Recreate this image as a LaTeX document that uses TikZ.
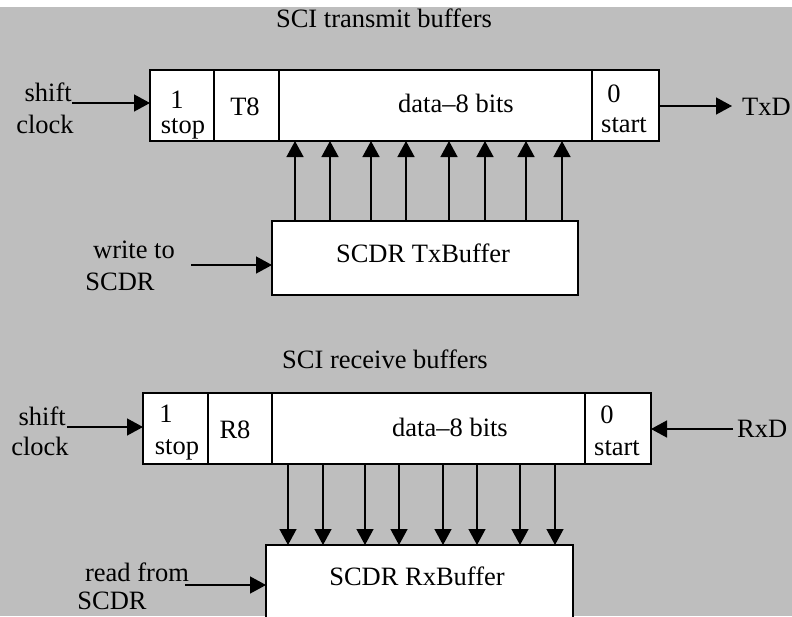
\documentclass[tikz,border=0pt]{standalone}
\usepackage{fontspec}
\setmainfont{Liberation Serif}
\usetikzlibrary{arrows.meta}
\definecolor{bg}{RGB}{190,190,190}
\begin{document}
\begin{tikzpicture}[x=1pt,y=-1pt,
  cell/.style={draw, fill=white, line width=1.4pt, inner sep=0pt, outer sep=0pt, anchor=north west},
  txt/.style={inner sep=0pt, anchor=base, font=\fontsize{26.5}{30}\selectfont},
  arr/.style={line width=1.4pt, -{Triangle[length=16pt,width=17pt]}}]
\useasboundingbox (0,0) rectangle (792,616);
\clip (0,0) rectangle (792,616);
\fill[bg] (0,0) rectangle (792,616);
\fill[white] (0,0) rectangle (792,7);

% ---------- transmit ----------
\node[txt] (title1) at (384,27) {SCI transmit buffers};
\node[cell, minimum width=64pt, minimum height=71pt] (tc1) at (150,70) {};
\node[cell, minimum width=65pt, minimum height=71pt] (tc2) at (214,70) {};
\node[cell, minimum width=313pt, minimum height=71pt] (tc3) at (279,70) {};
\node[cell, minimum width=67pt, minimum height=71pt] (tc4) at (592,70) {};
\node[txt] (one1) at (177,108) {1};
\node[txt] (stop1) at (183,133) {stop};
\node[txt] (t8) at (245,115) {T8};
\node[txt] (data1) at (456,112) {data\textendash 8 bits};
\node[txt] (zero1) at (614,102) {0};
\node[txt] (start1) at (624,132) {start};
\node[txt, anchor=base east] (shift1) at (72,101) {shift};
\node[txt] (clock1) at (45,133) {clock};
\node[txt, anchor=base west] (txd) at (742,115) {TxD};
\coordinate (sc1) at (72,103);
\coordinate (txdend) at (732,106);
\draw[arr] (sc1) -- (sc1 -| tc1.west);
\draw[arr] (txdend -| tc4.east) -- (txdend);

\node[cell, minimum width=306pt, minimum height=74pt] (tbuf) at (272,221) {};
\node[txt] (tbuftext) at (423,262) {SCDR TxBuffer};
\node[txt] (write) at (134,258) {write to};
\node[txt] (scdr1) at (120,290) {SCDR};
\coordinate (wr) at (191,265);
\draw[arr] (wr) -- (wr -| tbuf.west);
\foreach \x [count=\i] in {295,330,371,406,449,485,526,562} {
  \coordinate (u\i) at (\x,0);
  \draw[arr] (u\i |- tbuf.north) -- (u\i |- tc3.south);
}

% ---------- receive ----------
\node[txt] (title2) at (385,368) {SCI receive buffers};
\node[cell, minimum width=65pt, minimum height=71pt] (bc1) at (143,393) {};
\node[cell, minimum width=64pt, minimum height=71pt] (bc2) at (208,393) {};
\node[cell, minimum width=313pt, minimum height=71pt] (bc3) at (272,393) {};
\node[cell, minimum width=66pt, minimum height=71pt] (bc4) at (585,393) {};
\node[txt] (one2) at (166,422) {1};
\node[txt] (stop2) at (177,454) {stop};
\node[txt] (r8) at (235,438) {R8};
\node[txt] (data2) at (450,436) {data\textendash 8 bits};
\node[txt] (zero2) at (607,423) {0};
\node[txt] (start2) at (617,455) {start};
\node[txt, anchor=base east] (shift2) at (66,425) {shift};
\node[txt] (clock2) at (40,455) {clock};
\node[txt, anchor=base west] (rxd) at (737,437) {RxD};
\coordinate (sc2) at (67,427);
\coordinate (rxdstart) at (733,429);
\draw[arr] (sc2) -- (sc2 -| bc1.west);
\draw[arr] (rxdstart) -- (rxdstart -| bc4.east);

\node[cell, minimum width=307pt, minimum height=100pt] (rbuf) at (266,545) {};
\node[txt] (rbuftext) at (417,585) {SCDR RxBuffer};
\node[txt] (read) at (137,581) {read from};
\node[txt] (scdr2) at (112,609) {SCDR};
\coordinate (rd) at (185,585);
\draw[arr] (rd) -- (rd -| rbuf.west);
\foreach \x [count=\i] in {288,323,365,399,443,477,520,555} {
  \coordinate (d\i) at (\x,0);
  \draw[arr] (d\i |- bc3.south) -- (d\i |- rbuf.north);
}
\end{tikzpicture}
\end{document}
